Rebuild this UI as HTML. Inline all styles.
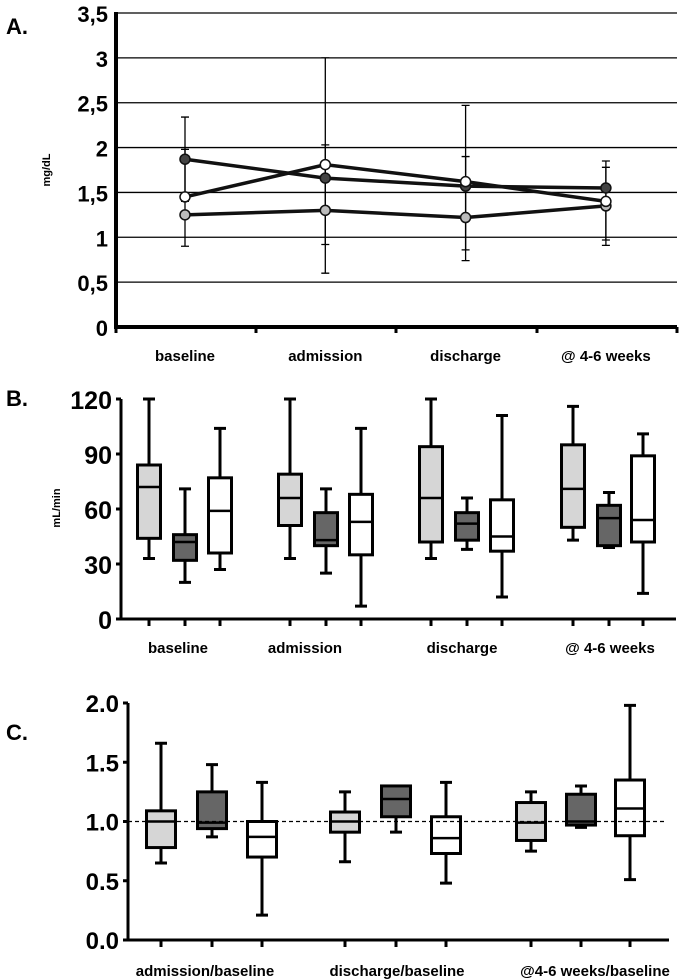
<!DOCTYPE html>
<html><head><meta charset="utf-8"><style>
html,body{margin:0;padding:0;background:#fff}
svg{display:block;font-family:"Liberation Sans",sans-serif}
</style></head><body>
<svg id="fig" width="697" height="980" viewBox="0 0 697 980">
<text x="6" y="34" font-size="22" font-weight="bold">A.</text>
<text x="6" y="406" font-size="22" font-weight="bold">B.</text>
<text x="6" y="740" font-size="22" font-weight="bold">C.</text>
<text transform="translate(50,170) rotate(-90)" text-anchor="middle" font-size="11" font-weight="bold">mg/dL</text>
<text transform="translate(60,508) rotate(-90)" text-anchor="middle" font-size="11" font-weight="bold">mL/min</text>
<g id="gA"></g><g id="gB"></g><g id="gC"></g>
</svg>
<script>
// Panel A data
const catsA = ["baseline","admission","discharge","@ 4-6 weeks"];
const ticksA = [0,0.5,1,1.5,2,2.5,3,3.5];
const tickLabelsA = ["0","0,5","1","1,5","2","2,5","3","3,5"];
const darkA = [1.87,1.66,1.57,1.55];
const darkLoA = [1.4,0.92,0.86,0.97];
const darkHiA = [2.34,3.0,1.9,1.85];
const whiteA = [1.45,1.81,1.62,1.40];
const whiteLoA = [0.9,0.6,0.74,0.91];
const whiteHiA = [1.98,2.03,2.47,1.78];
const grayA = [1.25,1.30,1.22,1.35];
// Panel B data (min, q1, median, q3, max) for light, dark, white groups
const catsB = ["baseline","admission","discharge","@ 4-6 weeks"];
const ticksB = [0,30,60,90,120];
const lightB = [[33,44,72,84,120],[33,51,66,79,120],[33,42,66,94,120],[43,50,71,95,116]];
const darkB = [[20,32,42,46,71],[25,40,43,58,71],[38,43,52,58,66],[39,40,55,62,69]];
const whiteB = [[27,36,59,77,104],[7,35,53,68,104],[12,37,45,65,111],[14,42,54,89,101]];
// Panel C data
const catsC = ["admission/baseline","discharge/baseline","@4-6 weeks/baseline"];
const ticksC = [0,0.5,1,1.5,2];
const tickLabelsC = ["0.0","0.5","1.0","1.5","2.0"];
const lightC = [[0.65,0.78,1.0,1.09,1.66],[0.66,0.91,1.0,1.08,1.25],[0.75,0.84,0.99,1.16,1.25]];
const darkC = [[0.87,0.94,0.99,1.25,1.48],[0.91,1.04,1.19,1.30,1.30],[0.95,0.97,1.0,1.23,1.30]];
const whiteC = [[0.21,0.70,0.87,1.0,1.33],[0.48,0.73,0.86,1.04,1.33],[0.51,0.88,1.11,1.35,1.98]];

const NS="http://www.w3.org/2000/svg";
function mk(p,tag,at){const e=document.createElementNS(NS,tag);for(const k in at)e.setAttribute(k,at[k]);p.appendChild(e);return e;}

// ---- Panel A
(function(){
const g=document.getElementById('gA');
const y=v=>327-v*(314/3.5);
const x=i=>185+i*140.3;
ticksA.forEach((t,i)=>{
 if(t>0){const l=mk(g,'line',{x1:116,x2:677,y1:y(t),y2:y(t),stroke:'#000','stroke-width':1.3});
 }
 const tx=mk(g,'text',{x:108,y:y(t)+9,'text-anchor':'end','font-size':22,'font-weight':'bold'});
 tx.textContent=tickLabelsA[i];
 
});
const ax=mk(g,'path',{d:`M116,${y(3.5)-1}V${y(0)}H677`,fill:'none',stroke:'#000','stroke-width':4});

[116,256,396,537,677].forEach(px=>{const t=mk(g,'line',{x1:px,x2:px,y1:327,y2:333,stroke:'#000','stroke-width':3});
 });
function err(lo,hi){lo.forEach((l,i)=>{
 const e=mk(g,'path',{d:`M${x(i)},${y(l)}V${y(hi[i])}M${x(i)-4},${y(l)}h8M${x(i)-4},${y(hi[i])}h8`,stroke:'#000','stroke-width':1.3});
 });}
err(darkLoA,darkHiA);err(whiteLoA,whiteHiA);
function series(vals,fill,name){
 const l=mk(g,'polyline',{points:vals.map((v,i)=>x(i)+','+y(v)).join(' '),fill:'none',stroke:'#111','stroke-width':3.5});
 
 vals.forEach((v,i)=>{const c=mk(g,'circle',{cx:x(i),cy:y(v),r:5,fill:fill,stroke:'#111','stroke-width':1.5});
 });
}
series(grayA,'#bbb','gray-series');series(darkA,'#444','dark-series');series(whiteA,'#fff','white-series');
catsA.forEach((c,i)=>{const t=mk(g,'text',{x:x(i),y:361,'text-anchor':'middle','font-size':15,'font-weight':'bold'});
 t.textContent=c;});
})();

function boxes(g,groups,fills,centers,y,bw,names){
 groups.forEach((grp,gi)=>grp.forEach((d,i)=>{
  const cx=centers[i][gi];
  const w=mk(g,'path',{d:`M${cx},${y(d[0])}V${y(d[1])}M${cx},${y(d[3])}V${y(d[4])}M${cx-6},${y(d[0])}h12M${cx-6},${y(d[4])}h12`,stroke:'#000','stroke-width':3});
  
  const r=mk(g,'rect',{x:cx-bw/2,y:y(d[3]),width:bw,height:y(d[1])-y(d[3]),fill:fills[gi],stroke:'#000','stroke-width':3});
  
  const m=mk(g,'line',{x1:cx-bw/2,x2:cx+bw/2,y1:y(d[2]),y2:y(d[2]),stroke:'#000','stroke-width':2.5});
  
 }));
}

// ---- Panel B
(function(){
const g=document.getElementById('gB');
const y=v=>619-v*(220/120);
const centers=[[149,185,220],[290,326,361],[431,467,502],[573,609,643]];
ticksB.forEach(t=>{const tx=mk(g,'text',{x:112,y:y(t)+10,'text-anchor':'end','font-size':25,'font-weight':'bold'});
 tx.textContent=t;
 const tk=mk(g,'line',{x1:116,x2:121,y1:y(t),y2:y(t),stroke:'#000','stroke-width':3});
 });
const ax=mk(g,'path',{d:`M121,${y(120)}V${y(0)}H676`,fill:'none',stroke:'#000','stroke-width':3});

centers.flat().forEach(px=>{const t=mk(g,'line',{x1:px,x2:px,y1:619,y2:626,stroke:'#000','stroke-width':3});
 });
boxes(g,[lightB,darkB,whiteB],['#d6d6d6','#666','#fff'],centers,y,23,['light-group','dark-group','white-group']);
const lx=[178,305,462,610];
catsB.forEach((c,i)=>{const t=mk(g,'text',{x:lx[i],y:653,'text-anchor':'middle','font-size':15,'font-weight':'bold'});
 t.textContent=c;});
})();

// ---- Panel C
(function(){
const g=document.getElementById('gC');
const y=v=>940-v*118.5;
const centers=[[161,212,262],[345,396,446],[531,581,630]];
ticksC.forEach((t,i)=>{const tx=mk(g,'text',{x:119,y:y(t)+9,'text-anchor':'end','font-size':24,'font-weight':'bold'});
 tx.textContent=tickLabelsC[i];
 const tk=mk(g,'line',{x1:123,x2:128,y1:y(t),y2:y(t),stroke:'#000','stroke-width':3});
 });
const ax=mk(g,'path',{d:`M128,${y(2)}V${y(0)}H669`,fill:'none',stroke:'#000','stroke-width':3});

const ref=mk(g,'line',{x1:128,x2:665,y1:y(1),y2:y(1),stroke:'#000','stroke-width':1.2,'stroke-dasharray':'4,3'});

centers.flat().forEach(px=>{const t=mk(g,'line',{x1:px,x2:px,y1:940,y2:947,stroke:'#000','stroke-width':3});
 });
boxes(g,[lightC,darkC,whiteC],['#d6d6d6','#666','#fff'],centers,y,29,['light-group','dark-group','white-group']);
const lx=[205,397,595];
catsC.forEach((c,i)=>{const t=mk(g,'text',{x:lx[i],y:976,'text-anchor':'middle','font-size':15,'font-weight':'bold'});
 t.textContent=c;});
ref.parentNode.appendChild(ref);
})();
</script>
</body></html>
